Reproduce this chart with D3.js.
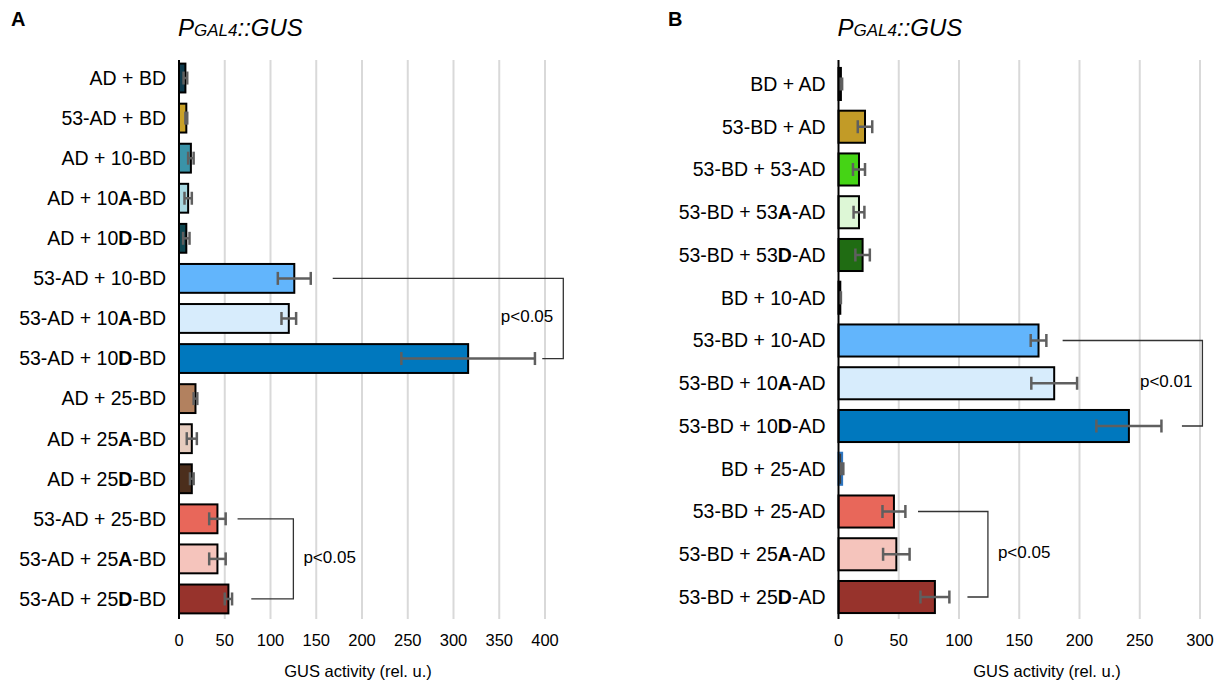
<!DOCTYPE html>
<html>
<head>
<meta charset="utf-8">
<script src="https://cdn.jsdelivr.net/npm/d3@7"></script>
<style>
  body { margin: 0; background: #fff; }
  text { font-family: Arial, "Liberation Sans", sans-serif; fill: #000; }
</style>
</head>
<body>
<script>
// ---- panel A data (bold letters marked with *) ----
var labelsA = ["AD + BD", "53-AD + BD", "AD + 10-BD", "AD + 10*A*-BD", "AD + 10*D*-BD",
  "53-AD + 10-BD", "53-AD + 10*A*-BD", "53-AD + 10*D*-BD", "AD + 25-BD", "AD + 25*A*-BD",
  "AD + 25*D*-BD", "53-AD + 25-BD", "53-AD + 25*A*-BD", "53-AD + 25*D*-BD"];
var valuesA = [7, 8, 13, 10, 8, 126, 120, 316, 18, 14, 14, 42, 42, 54];
var errorsA = [2, 1, 3, 4, 3.5, 18, 8, 73, 2, 5.5, 2, 9, 9, 4];
var colorsA = ["#0e3a4c", "#c9a128", "#3a93a8", "#a9d9e2", "#0f4650",
  "#62b5fc", "#d7ecfc", "#0078be", "#b2815f", "#e6ccbe", "#4b2e1c", "#e8675a", "#f5c4bc", "#97332c"];
var ticksA = [0, 50, 100, 150, 200, 250, 300, 350, 400];
// significance brackets: [top bar, bottom bar, top start, bottom start, vertical, label, side]
var sigA = [
  [5, 7, 168, 397, 420, "p<0.05", "in"],
  [11, 13, 64, 79, 125, "p<0.05", "out"]
];

// ---- panel B data ----
var labelsB = ["BD + AD", "53-BD + AD", "53-BD + 53-AD", "53-BD + 53*A*-AD", "53-BD + 53*D*-AD",
  "BD + 10-AD", "53-BD + 10-AD", "53-BD + 10*A*-AD", "53-BD + 10*D*-AD", "BD + 25-AD",
  "53-BD + 25-AD", "53-BD + 25*A*-AD", "53-BD + 25*D*-AD"];
var valuesB = [2, 22, 17, 17, 20, 1.5, 166, 179, 241, 3, 46, 48, 80];
var errorsB = [1, 6, 5, 4.5, 6, 0.5, 6.5, 19, 27, 1, 9.5, 11, 12];
var colorsB = ["#1a1a1a", "#c29b27", "#45d415", "#ddf7d6", "#206c13",
  "#1a1a1a", "#62b5fc", "#d7ecfc", "#0078be", "#3b3b3b", "#e8675a", "#f5c4bc", "#97332c"];
var strokesB = ["#000", "#000", "#000", "#000", "#000", "#000", "#000", "#000", "#000",
  "#2f76c0", "#000", "#000", "#000"];
var ticksB = [0, 50, 100, 150, 200, 250, 300];
var sigB = [
  [6, 8, 186, 285, 302, "p<0.01", "in"],
  [10, 12, 66, 107, 124, "p<0.05", "out"]
];

var width = 1222, height = 684;

var svg = d3.select("body").append("svg")
    .attr("width", width)
    .attr("height", height);

// draw a label with bold segments between asterisks
function richText(sel, str) {
  str.split("*").forEach(function(part, i) {
    if (part === "") return;
    sel.append("tspan")
        .attr("font-weight", i % 2 === 1 ? "bold" : "normal")
        .text(part);
  });
}

function panel(opt) {
  var g = svg.append("g");

  var x = d3.scaleLinear().domain(opt.domain).range(opt.xRange);
  var y = d3.scaleBand()
      .domain(d3.range(opt.labels.length))
      .range(opt.yRange)
      .paddingInner(opt.pad)
      .paddingOuter(opt.pad / 2);

  // panel letter
  g.append("text")
      .attr("x", opt.letterX).attr("y", 26)
      .attr("font-size", 20).attr("font-weight", "bold")
      .text(opt.letter);

  // title P GAL4::GUS
  var t = g.append("text")
      .attr("x", opt.xRange[0] - 1).attr("y", 36)
      .attr("font-size", 24).attr("font-style", "italic")
      .attr("fill", "#222");
  t.append("tspan").text("P");
  t.append("tspan").attr("font-size", 17).text("GAL4");
  t.append("tspan").text("::GUS");

  // gridlines
  g.selectAll(".grid")
      .data(opt.ticks.slice(1))
    .enter().append("line")
      .attr("x1", function(d) { return x(d); })
      .attr("x2", function(d) { return x(d); })
      .attr("y1", 60).attr("y2", 619)
      .attr("stroke", "#d9d9d9")
      .attr("stroke-width", 2);

  // tick labels
  g.selectAll(".tick")
      .data(opt.ticks)
    .enter().append("text")
      .attr("x", function(d) { return x(d); })
      .attr("y", 646)
      .attr("text-anchor", "middle")
      .attr("font-size", 16.5)
      .text(function(d) { return d; });

  // axis title
  g.append("text")
      .attr("x", opt.titleX).attr("y", 677)
      .attr("text-anchor", "middle")
      .attr("font-size", 16.5)
      .attr("fill", "#222")
      .text("GUS activity (rel. u.)");

  // category labels
  g.selectAll(".cat")
      .data(opt.labels)
    .enter().append("text")
      .attr("x", opt.xRange[0] - 13)
      .attr("y", function(d, i) { return y(i) + y.bandwidth() / 2; })
      .attr("dy", "0.35em")
      .attr("text-anchor", "end")
      .attr("font-size", 19.5)
      .each(function(d) { richText(d3.select(this), d); });

  // bars
  g.selectAll(".bar")
      .data(opt.values)
    .enter().append("rect")
      .attr("x", x(0))
      .attr("y", function(d, i) { return y(i); })
      .attr("width", function(d) { return x(d) - x(0); })
      .attr("height", y.bandwidth())
      .attr("fill", function(d, i) { return opt.colors[i]; })
      .attr("stroke", function(d, i) { return opt.strokes ? opt.strokes[i] : "#000"; })
      .attr("stroke-width", 2);

  // error bars
  var err = g.selectAll(".err")
      .data(opt.values)
    .enter().append("g")
      .attr("stroke", "#5f5f5f")
      .attr("stroke-width", 2.5);
  err.append("line")
      .attr("x1", function(d, i) { return x(Math.max(0, d - opt.errors[i])); })
      .attr("x2", function(d, i) { return x(d + opt.errors[i]); })
      .attr("y1", function(d, i) { return y(i) + y.bandwidth() / 2; })
      .attr("y2", function(d, i) { return y(i) + y.bandwidth() / 2; });
  [-1, 1].forEach(function(s) {
    err.append("line")
        .attr("x1", function(d, i) { return x(Math.max(0, d + s * opt.errors[i])); })
        .attr("x2", function(d, i) { return x(Math.max(0, d + s * opt.errors[i])); })
        .attr("y1", function(d, i) { return y(i) + y.bandwidth() / 2 - 6.5; })
        .attr("y2", function(d, i) { return y(i) + y.bandwidth() / 2 + 6.5; });
  });

  // left axis line
  g.append("line")
      .attr("x1", x(0)).attr("x2", x(0))
      .attr("y1", 60).attr("y2", 619)
      .attr("stroke", "#000")
      .attr("stroke-width", 2);

  // significance brackets
  opt.sig.forEach(function(s) {
    var yt = y(s[0]) + y.bandwidth() / 2,
        yb = y(s[1]) + y.bandwidth() / 2,
        xv = x(s[4]);
    g.append("path")
        .attr("d", "M" + x(s[2]) + "," + yt + "H" + xv + "V" + yb + "H" + x(s[3]))
        .attr("fill", "none")
        .attr("stroke", "#333")
        .attr("stroke-width", 1.3);
    g.append("text")
        .attr("x", s[6] === "in" ? xv - 10 : xv + 10)
        .attr("y", (yt + yb) / 2 - 2)
        .attr("dy", "0.35em")
        .attr("text-anchor", s[6] === "in" ? "end" : "start")
        .attr("font-size", 17)
        .text(s[5]);
  });
}

panel({
  letter: "A", letterX: 11,
  labels: labelsA, values: valuesA, errors: errorsA, colors: colorsA,
  ticks: ticksA, sig: sigA,
  domain: [0, 400], xRange: [179, 545],
  yRange: [58, 619], pad: 0.28, titleX: 358
});

panel({
  letter: "B", letterX: 668,
  labels: labelsB, values: valuesB, errors: errorsB, colors: colorsB, strokes: strokesB,
  ticks: ticksB, sig: sigB,
  domain: [0, 300], xRange: [838.5, 1200],
  yRange: [62.6, 618.4], pad: 0.25, titleX: 1047
});
</script>
</body>
</html>
